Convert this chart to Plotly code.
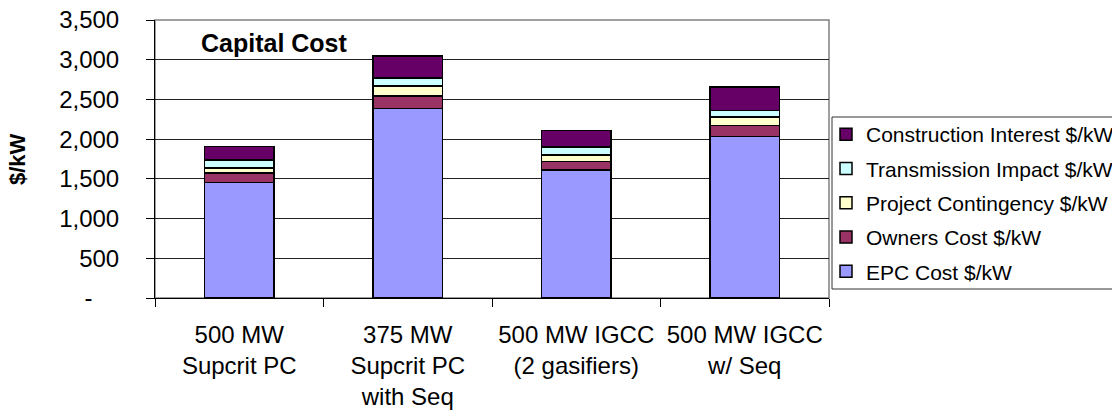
import plotly.graph_objects as go

# Plant configurations (x-axis categories)
categories = [
    "500 MW<br>Supcrit PC",
    "375 MW<br>Supcrit PC<br>with Seq",
    "500 MW IGCC<br>(2 gasifiers)",
    "500 MW IGCC<br>w/ Seq",
]

# Cost components, $/kW, stacked bottom to top
epc_cost = [1454, 2385, 1614, 2033]
owners_cost = [118, 160, 105, 138]
project_contingency = [63, 126, 84, 106]
transmission_impact = [105, 97, 97, 83]
construction_interest = [167, 280, 208, 294]

series_names = [
    "EPC Cost $/kW",
    "Owners Cost $/kW",
    "Project Contingency $/kW",
    "Transmission Impact $/kW",
    "Construction Interest $/kW",
]
series_values = [epc_cost, owners_cost, project_contingency,
                 transmission_impact, construction_interest]
series_colors = ["#9999FF", "#993366", "#FFFFCC", "#CCFFFF", "#660066"]

y_tick_vals = [0, 500, 1000, 1500, 2000, 2500, 3000, 3500]
y_tick_text = ["-\u00a0\u00a0\u00a0\u00a0", "500", "1,000", "1,500", "2,000",
               "2,500", "3,000", "3,500"]

FONT = "Arial, 'Liberation Sans', sans-serif"
W, H = 1112, 410
L, R, T, B = 155, 283, 20, 112
plot_w = W - L - R
plot_h = H - T - B

fig = go.Figure()
n = len(series_names)
for i, (name, vals, color) in enumerate(zip(series_names, series_values, series_colors)):
    fig.add_trace(go.Bar(
        x=categories,
        y=vals,
        name=name,
        legendgroup=name,
        legendrank=n - i,  # top segment listed first
        marker=dict(color=color, line=dict(color="#000000", width=1.5)),
        width=0.41,
    ))

fig.update_layout(
    width=W,
    height=H,
    margin=dict(l=L, r=R, t=T, b=B, autoexpand=False),
    barmode="stack",
    paper_bgcolor="white",
    plot_bgcolor="white",
    font=dict(family=FONT, color="#000000", size=21),
    showlegend=True,
    legend=dict(
        traceorder="grouped",
        x=(826 - L) / plot_w,
        xanchor="left",
        y=(H - B - 114) / plot_h,
        yanchor="top",
        bgcolor="rgba(0,0,0,0)",
        borderwidth=0,
        font=dict(size=21, family=FONT),
        tracegroupgap=4,
        itemwidth=30,
    ),
    xaxis=dict(
        showline=True,
        linecolor="#000000",
        linewidth=1,
        ticks="outside",
        tickson="boundaries",
        ticklen=8,
        tickcolor="#000000",
        tickfont=dict(size=24, family=FONT),
        ticklabelstandoff=15,
        showgrid=False,
    ),
    yaxis=dict(
        range=[0, 3500],
        tickvals=y_tick_vals,
        ticktext=y_tick_text,
        showline=True,
        linecolor="#000000",
        linewidth=1,
        ticks="outside",
        ticklen=8,
        tickcolor="#000000",
        tickfont=dict(size=24, family=FONT),
        ticklabelstandoff=22,
        showgrid=True,
        gridcolor="#222222",
        gridwidth=1,
        zeroline=False,
    ),
    shapes=[
        # plot-area frame (top/right edges in grey)
        dict(type="rect", xref="paper", yref="paper", x0=0, x1=1, y0=0, y1=1,
             line=dict(color="#808080", width=1.5), layer="below"),
        # legend box
        dict(type="rect", xref="paper", yref="paper",
             x0=(832 - L) / plot_w, x1=(1120 - L) / plot_w,
             y0=(H - B - 289) / plot_h, y1=(H - B - 117) / plot_h,
             line=dict(color="#333333", width=1), fillcolor="rgba(0,0,0,0)"),
    ],
    annotations=[
        dict(text="<b>Capital Cost</b>", xref="paper", yref="paper",
             x=(274 - L) / plot_w, y=(H - B - 43) / plot_h,
             xanchor="center", yanchor="middle", showarrow=False,
             font=dict(size=25, family=FONT)),
        dict(text="<b>$/kW</b>", xref="paper", yref="paper",
             x=(17 - L) / plot_w, y=0.5, textangle=-90,
             xanchor="center", yanchor="middle", showarrow=False,
             font=dict(size=22, family=FONT)),
    ],
)

fig.write_html("out.html")
